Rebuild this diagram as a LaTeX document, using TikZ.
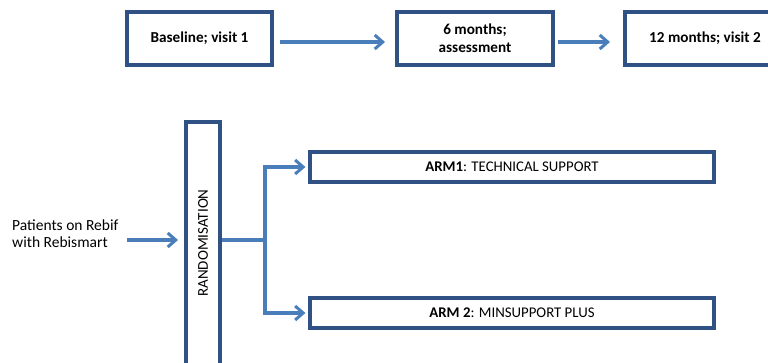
\documentclass[tikz,border=0pt]{standalone}
\usepackage{fontspec}
\setmainfont{Carlito}
\usetikzlibrary{arrows.meta}
\definecolor{boxblue}{HTML}{2F5184}
\definecolor{arrowblue}{HTML}{4A7EBB}
\begin{document}
\begin{tikzpicture}[x=1pt,y=-1pt,
  stagebox/.style={draw=boxblue,line width=3.2pt,fill=white,font=\fontsize{15.2}{18}\selectfont\bfseries,align=center,inner sep=0pt},
  armbox/.style={draw=boxblue,line width=3.2pt,fill=white,font=\fontsize{14.8}{17}\selectfont,inner sep=0pt},
  flow/.style={draw=arrowblue,line width=3.4pt,-{Straight Barb[length=8pt,width=14pt,line width=3pt]},shorten >=2pt},
  link/.style={draw=arrowblue,line width=3.4pt}]
\useasboundingbox (0,0) rectangle (768,363);
\begin{scope}
\clip (0,0) rectangle (768,363);
% timeline of visits
\node[stagebox,minimum width=145pt,minimum height=53pt] (base) at (199.5,38.5) {Baseline; visit 1};
\node[stagebox,minimum width=156pt,minimum height=53pt] (six) at (475,38.5) {6 months;\\assessment};
\node[stagebox,minimum width=160pt,minimum height=53pt] (twelve) at (705,38.5) {12 months; visit 2};
\coordinate (a1) at (280,42);
\coordinate (a1e) at (387,42);
\coordinate (a2) at (558,42);
\coordinate (a2e) at (612,42);
\draw[flow] (a1) -- (a1e);
\draw[flow] (a2) -- (a2e);
% randomisation
\node[draw=boxblue,line width=3.2pt,fill=white,minimum width=34pt,minimum height=260pt,inner sep=0pt] (rand) at (203,252) {};
\node[rotate=90,font=\fontsize{15}{17}\selectfont] (randlbl) at (203,243) {RANDOMISATION};
\node[align=left,anchor=west,font=\fontsize{15.5}{17.5}\selectfont,inner sep=0pt] (pat) at (12,233.5) {Patients on Rebif\\with Rebismart};
\coordinate (inS) at (127,240);
\coordinate (inE) at (180,240);
\draw[flow] (inS) -- (inE);
% arms
\node[armbox,minimum width=404pt,minimum height=30pt] (arm1) at (512,167) {\textbf{ARM1}: TECHNICAL SUPPORT};
\node[armbox,minimum width=404pt,minimum height=30pt] (arm2) at (512,313) {\textbf{ARM 2}: MINSUPPORT PLUS};
\coordinate (split) at (265,240);
\draw[link] (rand.east |- split) -- (split);
\draw[flow] (split) |- ([xshift=-1pt]arm1.west);
\draw[flow] (split) |- ([xshift=-1pt]arm2.west);
\end{scope}
\end{tikzpicture}
\end{document}
